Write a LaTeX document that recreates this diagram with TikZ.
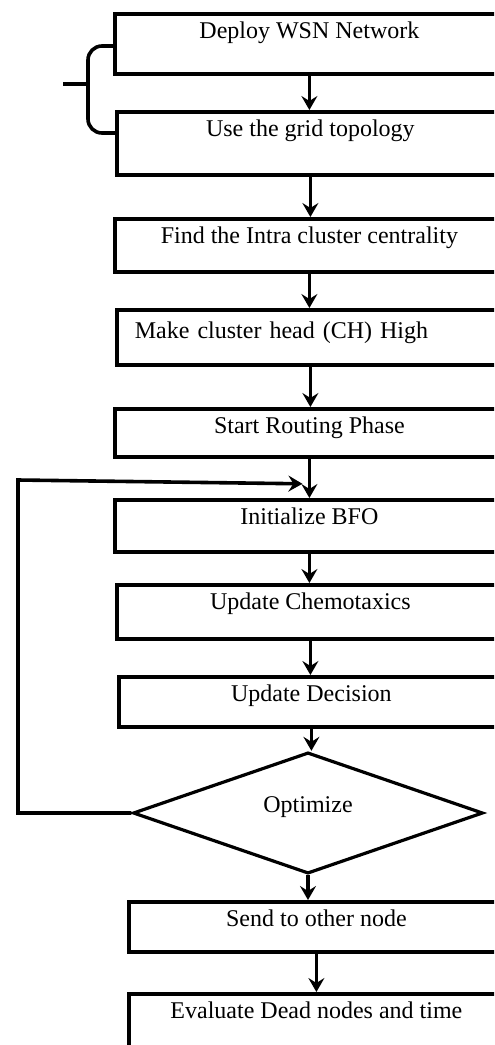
\documentclass[tikz,border=0pt]{standalone}
\usepackage{fontspec}
\setmainfont{Liberation Serif}
\usetikzlibrary{arrows.meta,positioning,calc,shapes.geometric}

\begin{document}
\begin{tikzpicture}[
    x=0.5pt, y=-0.5pt,
    >={Stealth[length=7pt,width=8pt,inset=2.5pt]},
    every node/.style={font=\fontsize{12}{14}\selectfont},
    stepbox/.style={draw, line width=1.9pt, anchor=north west, inner ysep=0pt, text height=12.5pt},
    decision/.style={diamond, draw, line width=1.6pt, minimum width=175pt, minimum height=47.5pt, inner sep=0pt, text depth=8pt},
    arr/.style={->, line width=1.8pt},
    brace/.style={line width=1.8pt, rounded corners=7pt}
  ]
    \useasboundingbox (0,0) rectangle (494,1045);
    \clip (0,0) rectangle (494,1045);

    \node[stepbox, minimum width=194.5pt, text depth=17.5pt] (deploy) at (113,12)  {Deploy WSN Network};
    \node[stepbox, minimum width=193.5pt, text depth=19pt]   (grid)   at (115,110) {Use the grid topology};
    \node[stepbox, minimum width=194.5pt, text depth=14pt]   (centr)  at (113,217) {Find the Intra cluster centrality};
    \node[stepbox, inner xsep=9pt, text width=175.5pt, align=left, text height=14.5pt, text depth=13pt] (chead) at (115,308) {Make cluster head (CH) High};
    \node[stepbox, minimum width=194.5pt, text depth=11.5pt] (route)  at (113,407) {Start Routing Phase};
    \node[stepbox, minimum width=194.5pt, text depth=13.5pt] (init)   at (113,498) {Initialize BFO};
    \node[stepbox, minimum width=193.5pt, text depth=14.5pt] (chemo)  at (115,583) {Update Chemotaxics};
    \node[stepbox, minimum width=192.5pt, text depth=12.5pt] (decide) at (117,675) {Update Decision};
    \node[decision] (opt) at (308,813) {Optimize};
    \node[stepbox, minimum width=187.5pt, text depth=12.5pt] (send)   at (127,900) {Send to other node};
    \node[stepbox, minimum width=187.5pt, text depth=20pt]   (eval)   at (127,992) {Evaluate Dead nodes and time};

    % brace on the first two steps
    \draw[brace] ($(deploy.north west)+(0,34)$) -- ++(-25,0) -- ($(grid.north west)+(-27,23)$) -- ($(grid.north west)+(0,23)$);
    \draw[line width=1.8pt] ($(deploy.north west)+(-50,72)$) -- ++(25,0);

    % main flow
    \draw[arr] (deploy.south) -- (deploy.south |- grid.north);
    \draw[arr] (grid.south) -- (grid.south |- centr.north);
    \draw[arr] (centr.south) -- (centr.south |- chead.north);
    \draw[arr] (chead.south) -- (chead.south |- route.north);
    \draw[arr] (route.south) -- (route.south |- init.north);
    \draw[arr] (init.south) -- (init.south |- chemo.north);
    \draw[arr] (chemo.south) -- (chemo.south |- decide.north);
    \draw[arr] (decide.south) -- (decide.south |- opt.north);
    \draw[arr] (opt.south) -- (opt.south |- send.north);
    \draw[arr] (send.south) -- (send.south |- eval.north);

    % loop back
    \coordinate (merge) at ($(route.south)+(-7,25)$);
    \coordinate (back) at (18,480);
    \draw[arr] (opt.west) -| (back) -- (merge);

  \end{tikzpicture}
\end{document}
